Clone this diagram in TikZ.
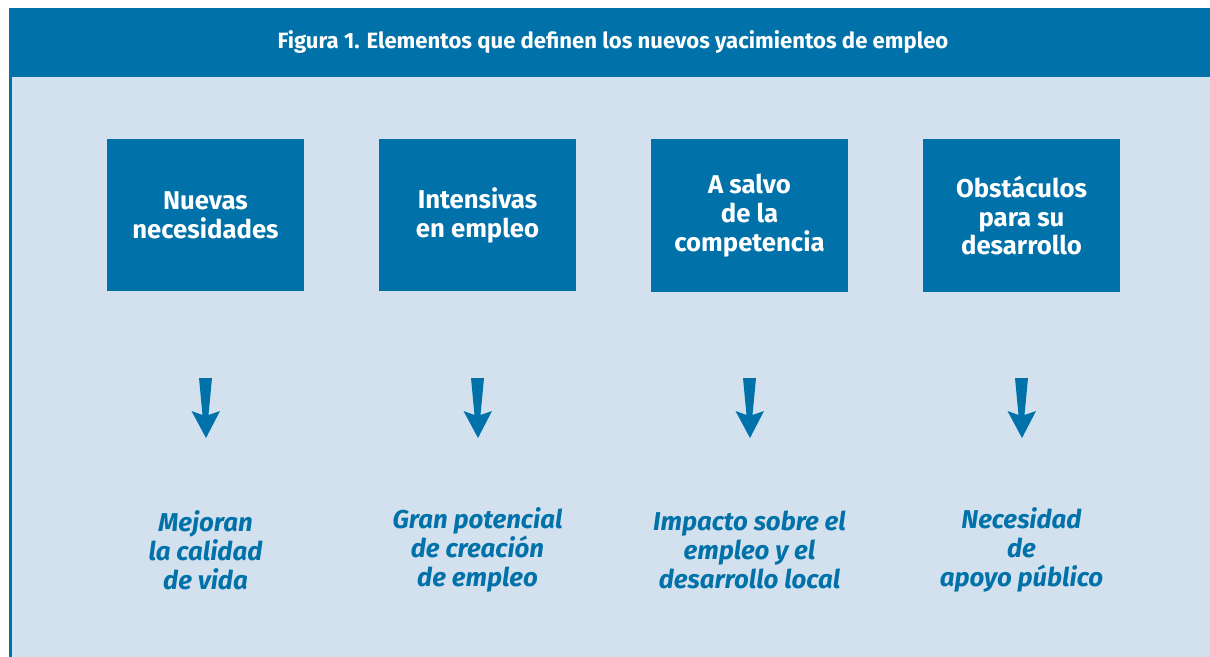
\documentclass[tikz,border=0pt]{standalone}
\usepackage{fontspec}
\setmainfont{Fira Sans}
\definecolor{dblue}{HTML}{0071A9}
\definecolor{lblue}{HTML}{D3E0EE}
\begin{document}
\begin{tikzpicture}[x=1bp,y=-1bp,
  box/.style={fill=dblue,draw=none,minimum width=197bp,minimum height=152bp,inner sep=0pt,
    text=white,align=center,font=\bfseries\fontsize{25.8}{29}\selectfont},
  result/.style={text=dblue,align=center,inner sep=0pt,font=\bfseries\itshape\fontsize{25.9}{29}\selectfont},
  arrowshape/.style={fill=dblue,draw=none}]
\useasboundingbox (0,0) rectangle (1210,657);
\fill[white] (0,0) rectangle (1210,657);
% body
\fill[lblue] (9,77) rectangle (1210,657);
\fill[dblue] (9,77) rectangle (11.7,657);
% header
\fill[dblue] (9,8) rectangle (1210,77);
\node[text=white,font=\bfseries\fontsize{22.2}{26}\selectfont] (title) at (613,42)
  {Figura 1. Elementos que definen los nuevos yacimientos de empleo};
% boxes
\node[box] (b1) at (205.5,215) {Nuevas\\necesidades};
\node[box] (b2) at (477.5,215) {Intensivas\\en empleo};
\node[box] (b3) at (749.5,215.5) {A salvo\\de la\\competencia};
\node[box] (b4) at (1021.5,215.5) {Obstáculos\\para su\\desarrollo};
% arrows
\foreach \cx in {205.5,477.5,749.5,1021.5}{
  \fill[arrowshape] (\cx-6.5,378) -- (\cx+6.5,378) -- (\cx+3,415) -- (\cx+14.5,411)
    -- (\cx+0.5,438) -- (\cx-14,411) -- (\cx-3,415) -- cycle;
}
% results
\node[result] (r1) at (205.5,550) {Mejoran\\la calidad\\de vida};
\node[result] (r2) at (477.5,550) {Gran potencial\\de creación\\de empleo};
\node[result] (r3) at (749.5,550) {Impacto sobre el\\empleo y el\\desarrollo local};
\node[result] (r4) at (1021.5,550) {Necesidad\\de\\apoyo público};
\end{tikzpicture}
\end{document}
